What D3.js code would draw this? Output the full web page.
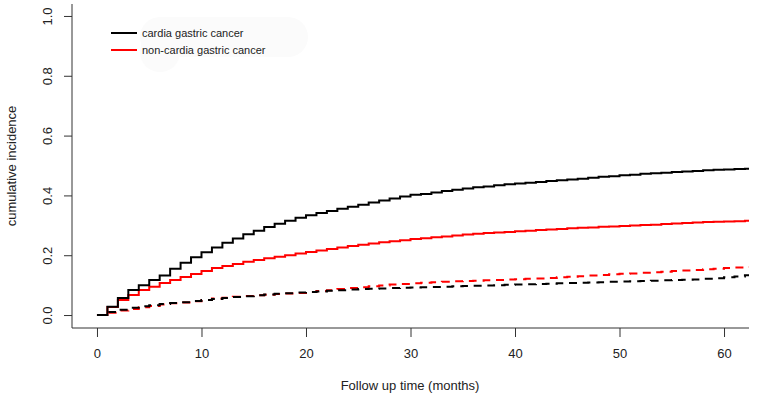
<!DOCTYPE html>
<html><head><meta charset="utf-8">
<script src="https://cdn.jsdelivr.net/npm/d3@7"></script>
<style>body{margin:0;background:#fff}svg{display:block}text{font-family:"Liberation Sans",Arial,sans-serif}</style>
</head><body><svg id="c" width="757" height="402"></svg>
<script>
const months = d3.range(0, 63);
const cardiaGC = [0,0.028,0.057,0.084,0.10,0.117,0.132,0.155,0.175,0.193,0.21,0.226,0.242,0.256,0.27,0.282,0.294,0.305,0.315,0.325,0.334,0.341,0.348,0.355,0.362,0.369,0.376,0.383,0.39,0.396,0.402,0.405,0.41,0.415,0.419,0.423,0.427,0.43,0.434,0.437,0.44,0.442,0.445,0.448,0.451,0.453,0.456,0.459,0.462,0.464,0.467,0.469,0.472,0.474,0.476,0.478,0.48,0.482,0.484,0.486,0.487,0.488,0.489];
const nonCardiaGC = [0,0.027,0.05,0.067,0.084,0.095,0.107,0.117,0.127,0.137,0.147,0.157,0.164,0.171,0.178,0.184,0.19,0.195,0.2,0.206,0.211,0.216,0.221,0.226,0.231,0.235,0.239,0.243,0.247,0.25,0.254,0.257,0.26,0.263,0.266,0.269,0.272,0.274,0.276,0.278,0.28,0.282,0.284,0.286,0.288,0.29,0.292,0.293,0.295,0.296,0.298,0.299,0.301,0.302,0.304,0.306,0.308,0.309,0.311,0.312,0.313,0.314,0.315];
const nonCardiaOther = [0,0.008,0.015,0.02,0.026,0.03,0.035,0.039,0.042,0.046,0.05,0.055,0.058,0.061,0.064,0.066,0.068,0.07,0.072,0.074,0.077,0.08,0.083,0.087,0.09,0.093,0.096,0.099,0.102,0.104,0.106,0.108,0.11,0.111,0.113,0.114,0.115,0.116,0.117,0.119,0.12,0.121,0.122,0.124,0.126,0.128,0.13,0.132,0.134,0.136,0.138,0.139,0.141,0.143,0.145,0.147,0.149,0.151,0.153,0.155,0.157,0.159,0.161];
const cardiaOther = [0,0.01,0.018,0.024,0.029,0.033,0.037,0.04,0.043,0.047,0.05,0.054,0.057,0.06,0.063,0.066,0.069,0.071,0.073,0.075,0.077,0.079,0.081,0.083,0.085,0.087,0.088,0.089,0.09,0.091,0.092,0.093,0.094,0.095,0.096,0.097,0.098,0.099,0.1,0.101,0.102,0.103,0.104,0.105,0.106,0.107,0.108,0.109,0.11,0.111,0.112,0.113,0.114,0.115,0.116,0.117,0.118,0.119,0.121,0.123,0.126,0.129,0.133];
const xTicks = [0,10,20,30,40,50,60];
const yTicks = [0,0.2,0.4,0.6,0.8,1.0];
const legendLabels = ["cardia gastric cancer","non-cardia gastric cancer"];
const legendColors = ["#000000","#ff0000"];

const svg = d3.select("#c");
const x = d3.scaleLinear().domain([-2.39, 62.39]).range([72, 749]);
const y = d3.scaleLinear().domain([-0.04, 1.04]).range([327, 4]);

// faint legend backdrop
svg.append("rect").attr("x",140).attr("y",17).attr("width",168).attr("height",40).attr("rx",20).attr("fill","#fbfbfb");
svg.append("circle").attr("cx",160).attr("cy",52).attr("r",20).attr("fill","#fbfbfb");

// axes box (L)
svg.append("path").attr("d",`M72,4V328H749`).attr("fill","none").attr("stroke","#333").attr("stroke-width",1);

const xa = svg.append("g").attr("transform","translate(0,328)")
  .call(d3.axisBottom(x).tickValues(xTicks).tickSize(9).tickPadding(12).tickFormat(d3.format("d")));
const ya = svg.append("g").attr("transform","translate(72,0)")
  .call(d3.axisLeft(y).tickValues(yTicks).tickSize(8).tickPadding(0).tickFormat(d3.format(".1f")));
[xa,ya].forEach(a=>{a.select(".domain").remove();a.selectAll("line").attr("stroke","#333");a.selectAll("text").attr("font-size",13).attr("fill","#222").attr("font-family","Liberation Sans, Arial, sans-serif");});
ya.selectAll(".tick text").attr("text-anchor","middle").attr("x",0).attr("dy",0)
  .attr("transform","translate(-25,0) rotate(-90)").attr("dy","0.35em");

svg.append("text").attr("x",410).attr("y",390).attr("text-anchor","middle").attr("font-size",13).attr("fill","#222").text("Follow up time (months)");
svg.append("text").attr("transform","translate(16,166) rotate(-90)").attr("text-anchor","middle").attr("font-size",13).attr("fill","#222").text("cumulative incidence");

const line = d3.line().x(d=>x(d[0])).y(d=>y(d[1])).curve(d3.curveStepAfter);
const series = [
  {v:nonCardiaOther,c:"#ff0000",dash:"8,6"},
  {v:cardiaOther,c:"#000000",dash:"8,6"},
  {v:nonCardiaGC,c:"#ff0000",dash:null},
  {v:cardiaGC,c:"#000000",dash:null}
];
series.forEach(s=>{
  const pts = months.map((m,i)=>[m,s.v[i]]);
  pts.push([62.39, s.v[s.v.length-1]]);
  svg.append("path").datum(pts).attr("d",line).attr("fill","none").attr("stroke",s.c).attr("stroke-width",2)
    .attr("stroke-dasharray",s.dash);
});

// legend
const lg = svg.append("g");
legendLabels.forEach((t,i)=>{
  lg.append("line").attr("x1",111).attr("x2",137).attr("y1",33+i*17).attr("y2",33+i*17).attr("stroke",legendColors[i]).attr("stroke-width",2);
  lg.append("text").attr("x",142).attr("y",33+i*17).attr("dy","0.35em").attr("font-size",11).attr("fill","#222").text(t);
});
</script></body></html>
